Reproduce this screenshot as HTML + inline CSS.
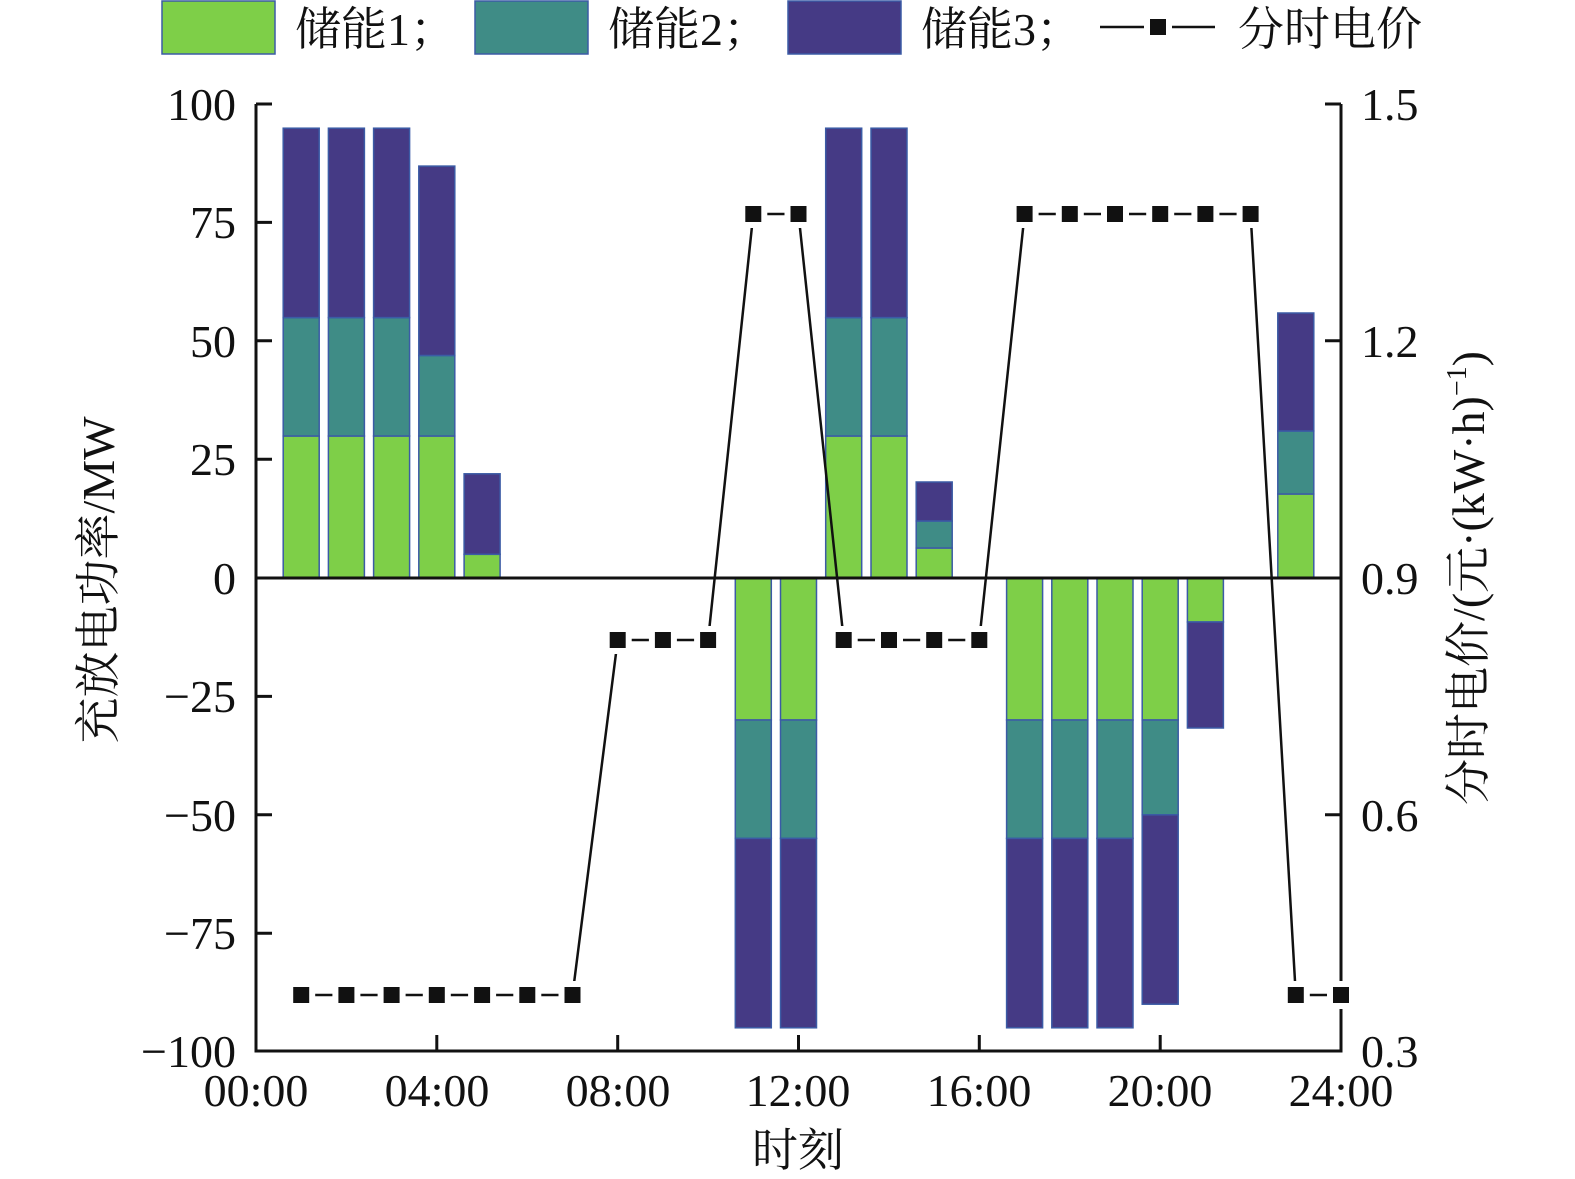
<!DOCTYPE html>
<html><head><meta charset="utf-8"><style>body{margin:0;background:#fff}svg{display:block}</style></head><body>
<svg width="1575" height="1179" xmlns="http://www.w3.org/2000/svg" font-family="Liberation Serif, Noto Serif CJK SC, serif">
<rect width="1575" height="1179" fill="#fff"/>
<g stroke="#3b5ba5" stroke-width="1.5">
<g fill="#7ecf48">
<rect x="162" y="1" width="113" height="53"/>
<rect x="283.2" y="436" width="36" height="142"/><rect x="328.4" y="436" width="36" height="142"/><rect x="373.6" y="436" width="36" height="142"/><rect x="418.8" y="436" width="36" height="142"/><rect x="464.1" y="554.3" width="36" height="23.7"/>
<rect x="825.7" y="436" width="36" height="142"/><rect x="871" y="436" width="36" height="142"/><rect x="916.2" y="548" width="36" height="30"/><rect x="1277.8" y="494" width="36" height="84"/>
<rect x="735.3" y="578" width="36" height="142"/><rect x="780.5" y="578" width="36" height="142"/><rect x="1006.6" y="578" width="36" height="142"/><rect x="1051.8" y="578" width="36" height="142"/><rect x="1097" y="578" width="36" height="142"/><rect x="1142.2" y="578" width="36" height="142"/><rect x="1187.4" y="578" width="36" height="44"/>
</g>
<g fill="#3f8c86">
<rect x="475" y="1" width="113" height="53"/>
<rect x="283.2" y="317.6" width="36" height="118.4"/><rect x="328.4" y="317.6" width="36" height="118.4"/><rect x="373.6" y="317.6" width="36" height="118.4"/><rect x="418.8" y="355.5" width="36" height="80.5"/>
<rect x="825.7" y="317.6" width="36" height="118.4"/><rect x="871" y="317.6" width="36" height="118.4"/><rect x="916.2" y="521" width="36" height="27"/><rect x="1277.8" y="431" width="36" height="63"/>
<rect x="735.3" y="720" width="36" height="118.4"/><rect x="780.5" y="720" width="36" height="118.4"/><rect x="1006.6" y="720" width="36" height="118.4"/><rect x="1051.8" y="720" width="36" height="118.4"/><rect x="1097" y="720" width="36" height="118.4"/><rect x="1142.2" y="720" width="36" height="94.8"/>
</g>
<g fill="#453a85">
<rect x="788" y="1" width="113" height="53"/>
<rect x="283.2" y="128.2" width="36" height="189.4"/><rect x="328.4" y="128.2" width="36" height="189.4"/><rect x="373.6" y="128.2" width="36" height="189.4"/><rect x="418.8" y="166.1" width="36" height="189.4"/><rect x="464.1" y="473.8" width="36" height="80.5"/>
<rect x="825.7" y="128.2" width="36" height="189.4"/><rect x="871" y="128.2" width="36" height="189.4"/><rect x="916.2" y="482" width="36" height="39"/><rect x="1277.8" y="313" width="36" height="118"/>
<rect x="735.3" y="838.4" width="36" height="189.4"/><rect x="780.5" y="838.4" width="36" height="189.4"/><rect x="1006.6" y="838.4" width="36" height="189.4"/><rect x="1051.8" y="838.4" width="36" height="189.4"/><rect x="1097" y="838.4" width="36" height="189.4"/><rect x="1142.2" y="814.8" width="36" height="189.4"/><rect x="1187.4" y="622" width="36" height="106"/>
</g>
</g>
<g stroke="#111" stroke-width="3" fill="none">
<path d="M256,104 V1051 H1341 V104"/>
<path d="M256,578 H1341"/>
<path d="M256,104 h16 M256,222.4 h16 M256,340.8 h16 M256,459.2 h16 M256,696.4 h16 M256,814.8 h16 M256,933.2 h16"/>
<path d="M1341,104 h-16 M1341,340.8 h-16 M1341,814.8 h-16"/>
<path d="M436.8,1051 v-16 M617.7,1051 v-16 M798.5,1051 v-16 M979.3,1051 v-16 M1160.2,1051 v-16"/>
</g>
<polyline fill="none" stroke="#111" stroke-width="2.5" points="301.2,995 346.4,995 391.6,995 436.8,995 482.1,995 527.3,995 572.5,995 617.7,640 662.9,640 708.1,640 753.3,214 798.5,214 843.7,640 889,640 934.2,640 979.3,640 1024.6,214 1069.8,214 1115,214 1160.2,214 1205.4,214 1250.6,214 1295.8,995 1341,995"/>
<polyline fill="none" stroke="#111" stroke-width="2.5" points="1100,27 1215,27"/>
<g fill="#fff">
<rect x="1144" y="13" width="28" height="28"/>
<rect x="287.2" y="981" width="28" height="28"/><rect x="332.4" y="981" width="28" height="28"/><rect x="377.6" y="981" width="28" height="28"/><rect x="422.8" y="981" width="28" height="28"/><rect x="468.1" y="981" width="28" height="28"/><rect x="513.3" y="981" width="28" height="28"/><rect x="558.5" y="981" width="28" height="28"/>
<rect x="603.7" y="626" width="28" height="28"/><rect x="648.9" y="626" width="28" height="28"/><rect x="694.1" y="626" width="28" height="28"/>
<rect x="739.3" y="200" width="28" height="28"/><rect x="784.5" y="200" width="28" height="28"/>
<rect x="829.7" y="626" width="28" height="28"/><rect x="875" y="626" width="28" height="28"/><rect x="920.2" y="626" width="28" height="28"/><rect x="965.3" y="626" width="28" height="28"/>
<rect x="1010.6" y="200" width="28" height="28"/><rect x="1055.8" y="200" width="28" height="28"/><rect x="1101" y="200" width="28" height="28"/><rect x="1146.2" y="200" width="28" height="28"/><rect x="1191.4" y="200" width="28" height="28"/><rect x="1236.6" y="200" width="28" height="28"/>
<rect x="1281.8" y="981" width="28" height="28"/><rect x="1327" y="981" width="28" height="28"/>
</g>
<g fill="#111">
<rect x="1150" y="19" width="16" height="16"/>
<rect x="293.2" y="987" width="16" height="16"/><rect x="338.4" y="987" width="16" height="16"/><rect x="383.6" y="987" width="16" height="16"/><rect x="428.8" y="987" width="16" height="16"/><rect x="474.1" y="987" width="16" height="16"/><rect x="519.3" y="987" width="16" height="16"/><rect x="564.5" y="987" width="16" height="16"/>
<rect x="609.7" y="632" width="16" height="16"/><rect x="654.9" y="632" width="16" height="16"/><rect x="700.1" y="632" width="16" height="16"/>
<rect x="745.3" y="206" width="16" height="16"/><rect x="790.5" y="206" width="16" height="16"/>
<rect x="835.7" y="632" width="16" height="16"/><rect x="881" y="632" width="16" height="16"/><rect x="926.2" y="632" width="16" height="16"/><rect x="971.3" y="632" width="16" height="16"/>
<rect x="1016.6" y="206" width="16" height="16"/><rect x="1061.8" y="206" width="16" height="16"/><rect x="1107" y="206" width="16" height="16"/><rect x="1152.2" y="206" width="16" height="16"/><rect x="1197.4" y="206" width="16" height="16"/><rect x="1242.6" y="206" width="16" height="16"/>
<rect x="1287.8" y="987" width="16" height="16"/><rect x="1333" y="987" width="16" height="16"/>
</g>
<g fill="#111" font-size="46">
<text x="295" y="45">储能1；</text>
<text x="608" y="45">储能2；</text>
<text x="921" y="45">储能3；</text>
<text x="1238" y="45">分时电价</text>
<g text-anchor="end">
<text x="236" y="120">100</text><text x="236" y="238">75</text><text x="236" y="357">50</text><text x="236" y="475">25</text><text x="236" y="594">0</text><text x="236" y="712">−25</text><text x="236" y="831">−50</text><text x="236" y="949">−75</text><text x="236" y="1067">−100</text>
</g>
<text x="1361" y="120">1.5</text><text x="1361" y="357">1.2</text><text x="1361" y="594">0.9</text><text x="1361" y="831">0.6</text><text x="1361" y="1067">0.3</text>
<g text-anchor="middle">
<text x="256" y="1106">00:00</text><text x="437" y="1106">04:00</text><text x="618" y="1106">08:00</text><text x="798" y="1106">12:00</text><text x="979" y="1106">16:00</text><text x="1160" y="1106">20:00</text><text x="1341" y="1106">24:00</text>
<text x="798" y="1166">时刻</text>
<text transform="translate(114,580) rotate(-90)">充放电功率/MW</text>
<text transform="translate(1484,578) rotate(-90)">分时电价/(元·(kW·h)<tspan font-size="28" dy="-18">−1</tspan><tspan dy="18">)</tspan></text>
</g>
</g>
</svg>
</body></html>
